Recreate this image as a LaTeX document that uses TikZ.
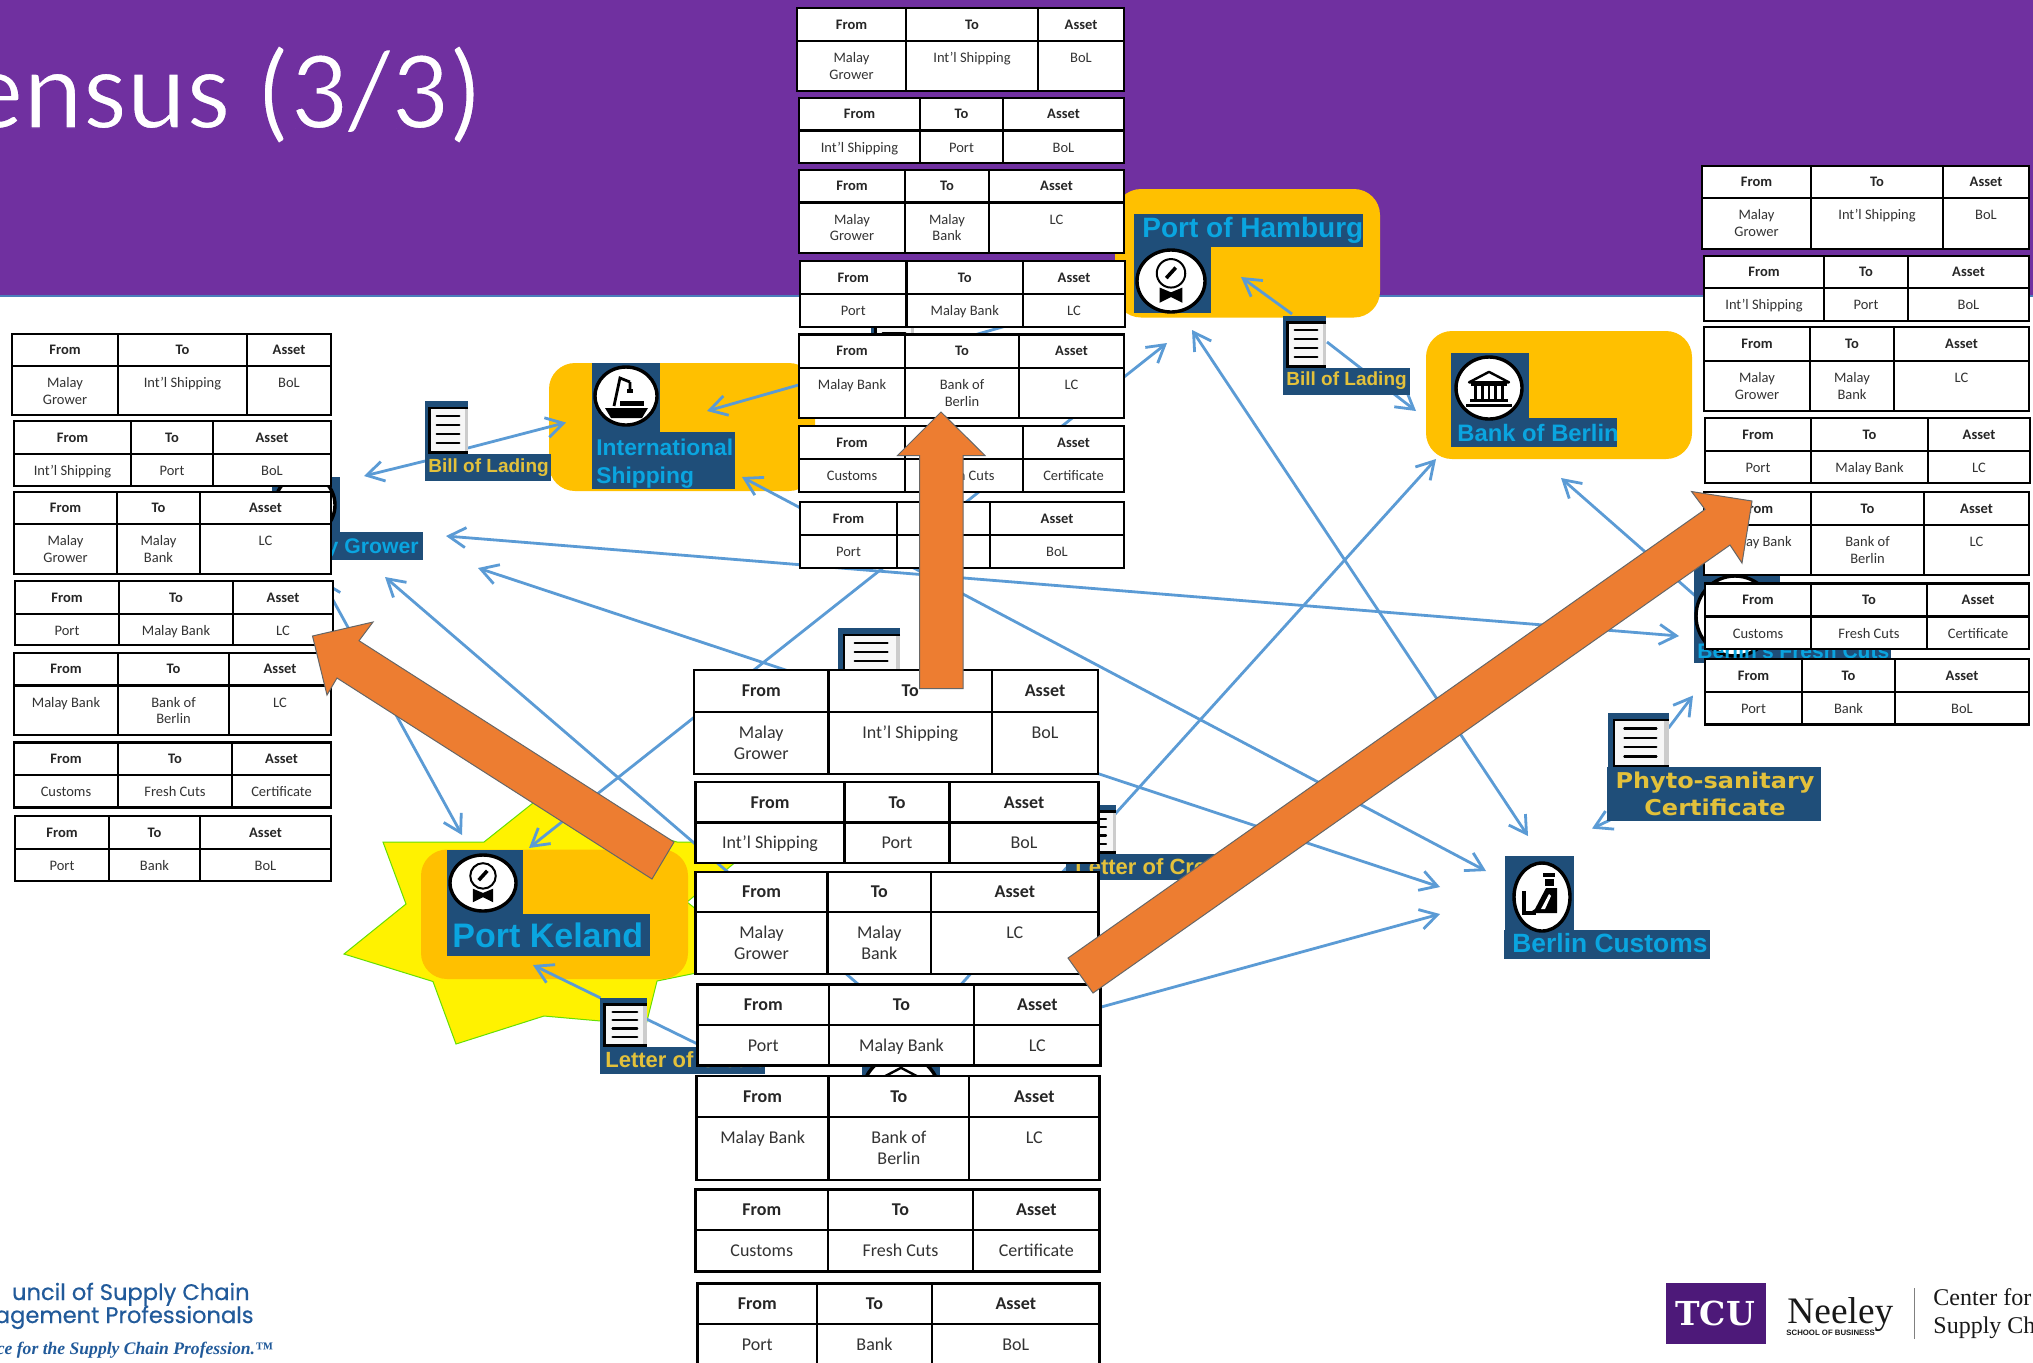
\documentclass[tikz,border=0pt]{standalone}
\usepackage{fontspec}
\setmainfont{Carlito}
\newfontfamily\labfont{Liberation Sans}
\newfontfamily\widefont[FakeStretch=1.1]{DejaVu Sans}
\newfontfamily\geofont[FakeBold=0.4]{Poppins}
\newfontfamily\serfont{Liberation Serif}
\newfontfamily\slabfont{DejaVu Serif}
\usetikzlibrary{arrows.meta,shapes.geometric}
\definecolor{bandpurple}{HTML}{7030A0}
\definecolor{bandline}{HTML}{4A7EBB}
\definecolor{lineblue}{HTML}{5B9BD5}
\definecolor{boxorange}{HTML}{FFC000}
\definecolor{bigorange}{HTML}{ED7D31}
\definecolor{labblue}{HTML}{1F4E79}
\definecolor{labcyan}{HTML}{0AA5E0}
\definecolor{labgold}{HTML}{E3C13B}
\definecolor{logoblue}{HTML}{215A9A}
\definecolor{tcupurple}{HTML}{4D1979}
\tikzset{
  biarrow/.style={draw=lineblue,line width=1.4pt,{Straight Barb[length=8.5pt,width=10pt]}-{Straight Barb[length=8.5pt,width=10pt]}},
  onearrow/.style={draw=lineblue,line width=1.4pt,-{Straight Barb[length=8.5pt,width=10pt]}},
  tblline/.style={draw=black,line width=1.25pt},
  thead/.style={inner sep=0pt,font=\fontsize{\curfs}{\curls}\selectfont\bfseries,text=black!85},
  tbody/.style={inner sep=0pt,anchor=north,align=center,font=\fontsize{\curfs}{\curls}\selectfont,text=black!80},
  orangebox/.style={fill=boxorange,rounded corners=13pt},
  labelrect/.style={fill=labblue},
  cyanlab/.style={inner sep=0pt,anchor=west,text=labcyan,font=\labfont\bfseries},
  goldlab/.style={inner sep=0pt,anchor=west,text=labgold,font=\labfont\bfseries},
  iconcirc/.style={ellipse,fill=white,draw=black,line width=1.7pt,inner sep=0pt},
  bigarrow/.style={fill=bigorange,draw=black!60,line width=.5pt},
  logotext/.style={inner sep=0pt,text=logoblue},
  blacktext/.style={inner sep=0pt,text=black!90},
}
\def\curfs{7.25}\def\curls{8.25}\def\curoff{10.6}
\def\tblgeom#1,#2,#3,#4,#5,#6,#7\relax{\def\xa{#1}\def\xb{#2}\def\xc{#3}\def\xd{#4}\def\ya{#5}\def\yb{#6}\def\yc{#7}}
\newcommand{\tbl}[5]{%
  \tblgeom#2\relax
  \pgfmathsetmacro\mxa{(\xa+\xb)/2}%
  \pgfmathsetmacro\mxb{(\xb+\xc)/2}%
  \pgfmathsetmacro\mxc{(\xc+\xd)/2}%
  \pgfmathsetmacro\myh{(\ya+\yb)/2}%
  \pgfmathsetmacro\myb{\yb+\curoff}%
  \draw[tblline,fill=white] (\xa,\ya) rectangle (\xd,\yc);
  \draw[tblline] (\xb,\ya) -- (\xb,\yc) (\xc,\ya) -- (\xc,\yc) (\xa,\yb) -- (\xd,\yb);
  \node[thead] (#1hf) at (\mxa,\myh) {From};
  \node[thead] (#1ht) at (\mxb,\myh) {To};
  \node[thead] (#1ha) at (\mxc,\myh) {Asset};
  \node[tbody] (#1bf) at (\mxa,\myb) {\rule{0pt}{.75em}#3};
  \node[tbody] (#1bt) at (\mxb,\myb) {\rule{0pt}{.75em}#4};
  \node[tbody] (#1ba) at (\mxc,\myb) {\rule{0pt}{.75em}#5};
}
\newcommand{\docicon}[5]{%
  \pgfmathsetmacro\dw{#4-#2}\pgfmathsetmacro\dh{#5-#3}%
  \fill[labblue] (#2,#3) rectangle (#4,#5);
  \fill[black!3] ({#2+.1*\dw},{#3+.13*\dh}) rectangle (#4,{#5-.03*\dh});
  \fill[black!20] ({#4-.07*\dw},{#3+.13*\dh}) rectangle (#4,{#5-.03*\dh});
  \draw[black,line width=1.2pt] (#4,{#3+.13*\dh}) -- ({#2+.1*\dw},{#3+.13*\dh}) -- ({#2+.1*\dw},{#5-.03*\dh}) -- (#4,{#5-.03*\dh});
  \foreach \q in {.28,.45,.62,.79}{\draw[black,line width=1.1pt,line cap=round] ({#2+.27*\dw},{#3+\q*\dh}) -- ({#2+.8*\dw},{#3+\q*\dh});}
  \coordinate (#1) at ({(#2+#4)/2},{(#3+#5)/2});
}
\newcommand{\badgeglyph}[3]{%
  \begin{scope}[shift={(#1,#2)},scale=#3]
    \draw[black,line width=1pt,fill=white] (0,-6) ellipse [x radius=15,y radius=15];
    \draw[black,line width=1.8pt] (-5,-1) -- (5,-12);
    \fill[black] (-12,9) -- (0,14) -- (12,9) -- (12,25) -- (0,19) -- (-12,25) -- cycle;
  \end{scope}
}
\newcommand{\bankglyph}[3]{%
  \begin{scope}[shift={(#1,#2)},scale=#3]
    \draw[black,line width=1.2pt,fill=white,line join=round] (-21,-6) -- (0,-17) -- (21,-6) -- cycle;
    \foreach \q in {-14,-7,0,7,14}{\fill[black] (\q-1.5,-3) rectangle (\q+1.5,12);}
    \fill[black] (-19,-5) rectangle (19,-2);
    \fill[black] (-20,12) rectangle (20,15);
    \fill[black] (-24,17) rectangle (24,20);
  \end{scope}
}
\begin{document}
\begin{tikzpicture}[x=0.5pt,y=-0.5pt]
\useasboundingbox (0,0) rectangle (2033,1362);
\clip (0,0) rectangle (2033,1362);
\fill[white] (0,0) rectangle (2033,1362);
% band and title
\fill[bandline] (0,294) rectangle (2033,297);
\fill[bandpurple] (0,0) rectangle (2033,295);
\node[inner sep=0pt,anchor=base east,text=white,font=\fontsize{56.5}{60}\selectfont] (title) at (483,128) {\special{pdf:code 2 Tr 0.7 w 0.4392 0.1882 0.6275 RG}ensus (3/3)\special{pdf:code 0 Tr 0 G}};
% orange boxes and star
\path[orangebox] (1115,189) rectangle (1380,317.5);
\path[orangebox] (549,363) rectangle (815,491);
\path[orangebox] (1426,331) rectangle (1692,459);
\draw[fill=yellow,draw=black!20!green!60!yellow,line width=.5pt]
  (383,842) -- (484,842) -- (533,803) -- (600,820) -- (677,842) -- (760,842) -- (687,902) -- (760,960) -- (657,981)
  -- (646,1025) -- (544,1016) -- (456,1044) -- (433,981.5) -- (344,954) -- (406,904) -- cycle;
\path[orangebox] (421,849.5) rectangle (688,979);
% connector end points
\coordinate (growerR) at (446,536); \coordinate (freshL) at (1679,636);
\coordinate (growerS) at (478,568); \coordinate (custA) at (1440,887);
\coordinate (growerT) at (385,577); \coordinate (bankA) at (880,1003);
\coordinate (berlinB) at (1436,459); \coordinate (bankB) at (890,1063);
\coordinate (custB) at (1440,914); \coordinate (bankC) at (930,1054);
\coordinate (kelandT) at (529,848); \coordinate (hambB) at (1167,343);
\coordinate (hambC) at (1192,330); \coordinate (custC) at (1528,836);
\coordinate (shipB) at (742,477); \coordinate (custD) at (1486,871);
\coordinate (growerB) at (322,580); \coordinate (kelandL) at (462,835);
\coordinate (shipR) at (707,411); \coordinate (hambD) at (1020,322);
\coordinate (berlinS) at (1561,478); \coordinate (freshT) at (1700,600);
\coordinate (billLa) at (425,461); \coordinate (growerU) at (364,476);
\coordinate (billLb) at (468,448); \coordinate (shipL) at (566,422.5);
\coordinate (billHa) at (1292,314); \coordinate (hambI) at (1241,277);
\coordinate (billHb) at (1327,342); \coordinate (berlinT) at (1416,411);
\coordinate (phytoA) at (1668.5,728); \coordinate (freshB) at (1693,695.5);
\coordinate (phytoB) at (1610,820); \coordinate (custE) at (1592,828.6);
\coordinate (lcA) at (600.6,998); \coordinate (kelandB) at (533,965);
\coordinate (lcB) at (646.5,1019); \coordinate (bankD) at (720,1055);
% connectors
\draw[biarrow] (growerR) -- (freshL);
\draw[biarrow] (growerS) -- (custA);
\draw[onearrow] (bankA) -- (growerT);
\draw[onearrow] (bankB) -- (berlinB);
\draw[onearrow] (bankC) -- (custB);
\draw[biarrow] (kelandT) -- (hambB);
\draw[biarrow] (hambC) -- (custC);
\draw[biarrow] (shipB) -- (custD);
\draw[biarrow] (growerB) -- (kelandL);
\draw[onearrow] (hambD) -- (shipR);
\draw[onearrow] (freshT) -- (berlinS);
\draw[onearrow] (billLa) -- (growerU);
\draw[onearrow] (billLb) -- (shipL);
\draw[onearrow] (billHa) -- (hambI);
\draw[onearrow] (billHb) -- (berlinT);
\draw[onearrow] (phytoA) -- (freshB);
\draw[onearrow] (phytoB) -- (custE);
\draw[onearrow] (lcA) -- (kelandB);
\draw[line width=1.4pt,draw=lineblue] (lcB) -- (bankD);
% Port of Hamburg
\fill[labblue] (1134,214) rectangle (1363,247);
\node[cyanlab,font=\labfont\bfseries\fontsize{14}{16}\selectfont] (hamb) at (1142,230) {Port of Hamburg};
\fill[labblue] (1134,247) rectangle (1211,313);
\node[iconcirc,minimum width=34pt,minimum height=31pt] (hambIcon) at (1171,281) {};
\badgeglyph{1171}{279}{.95}
% International Shipping
\fill[labblue] (592,363) rectangle (660,432);
\fill[labblue] (592,432) rectangle (735,489);
\node[iconcirc,minimum width=31pt,minimum height=29pt] (shipIcon) at (626,396) {};
\begin{scope}[shift={(626,396)}]
  \fill[black] (-21,12) -- (22,12) -- (16,22) -- (-15,22) -- cycle;
  \fill[black] (-6,5) rectangle (18,10);
  \draw[black,line width=1.4pt] (-12,10) -- (-6,-18) -- (4,-14) (4,-14) -- (4,-7);
  \fill[black] (1,-7) rectangle (7,-3);
\end{scope}
\node[cyanlab,align=left,font=\labfont\bfseries\fontsize{11.4}{14}\selectfont] (ship) at (596,463.5) {International\\Shipping};
% Bank of Berlin
\fill[labblue] (1451,353) rectangle (1529,418);
\fill[labblue] (1451,418) rectangle (1617,447);
\node[iconcirc,minimum width=33pt,minimum height=31pt] (berlinIcon) at (1489,388) {};
\bankglyph{1489}{388}{.95}
\node[cyanlab,font=\labfont\bfseries\fontsize{11.9}{14}\selectfont] (berlin) at (1457,432.5) {Bank of Berlin};
% Malay Grower
\fill[labblue] (272,477) rectangle (340,532);
\fill[labblue] (272,532) rectangle (423,560);
\node[iconcirc,minimum width=30pt,minimum height=31pt] (growerIcon) at (305,505) {};
\node[inner sep=0pt,anchor=east,text=labcyan,font=\labfont\bfseries\fontsize{10.6}{12}\selectfont] (grower) at (419,548) {Malay Grower};
% Port Keland
\fill[labblue] (447,850) rectangle (523,913.5);
\fill[labblue] (447,913.5) rectangle (650,956);
\node[iconcirc,minimum width=33pt,minimum height=28pt] (kelandIcon) at (483,883) {};
\badgeglyph{483}{881}{.85}
\node[cyanlab,font=\labfont\bfseries\fontsize{17}{19}\selectfont] (keland) at (452,935) {Port Keland};
% Bills of lading and letters of credit
\docicon{billL}{425}{401}{468}{454}
\fill[labblue] (425,454) rectangle (551,481);
\node[goldlab,font=\labfont\bfseries\fontsize{9.5}{11}\selectfont] (billLt) at (428,468) {Bill of Lading};
\docicon{billH}{1283}{315.5}{1326}{368}
\fill[labblue] (1283,368) rectangle (1410,395);
\node[goldlab,font=\labfont\bfseries\fontsize{9.5}{11}\selectfont] (billHt) at (1286,381) {Bill of Lading};
\docicon{billT}{871}{309}{914}{362}
\docicon{billC}{838}{628}{900}{681}
\docicon{lcLow}{600}{998}{646.5}{1047}
\fill[labblue] (600,1047) rectangle (765,1073.6);
\node[goldlab,font=\labfont\bfseries\fontsize{11}{13}\selectfont] (lcLowT) at (605,1060) {Letter of Credit};
\docicon{lcMid}{1066}{805}{1116}{854}
\fill[labblue] (1066,854) rectangle (1250,880);
\node[goldlab,font=\labfont\bfseries\fontsize{11}{13}\selectfont] (lcMidT) at (1075,867) {Letter of Credit};
% Malay Bank (under the centre tables)
\fill[labblue] (862,1060) rectangle (940,1140);
\node[iconcirc,minimum width=39pt,minimum height=40pt] (bankIcon) at (901,1095) {};
\bankglyph{901}{1095}{1.6}
% Berlin's Fresh Cuts
\fill[labblue] (1694,565) rectangle (1780,630);
\fill[labblue] (1694,630) rectangle (1890.5,663);
\node[iconcirc,minimum width=39pt,minimum height=40pt] (freshIcon) at (1735,616) {};
\node[cyanlab,font=\labfont\bfseries\fontsize{10.5}{12}\selectfont] (fresh) at (1697,651) {Berlin’s Fresh Cuts};
% Phyto
\docicon{phytoIcon}{1608}{713}{1668.5}{768}
\fill[labblue] (1607,767) rectangle (1821,821);
\node[inner sep=0pt,align=center,text=labgold,font=\widefont\bfseries\fontsize{10.9}{13.4}\selectfont] (phyto) at (1715,794) {Phyto-sanitary\\Certificate};
% Berlin Customs
\fill[labblue] (1505,856) rectangle (1574,930);
\fill[labblue] (1504,930) rectangle (1710,959);
\node[iconcirc,minimum width=28pt,minimum height=34pt] (custIcon) at (1542,897) {};
\begin{scope}[shift={(1542,897)}]
  \fill[black] (1,-24) rectangle (13,-20);
  \fill[black] (3,-18) rectangle (12,-11);
  \fill[black] (-7,12) -- (4,-9) -- (15,-9) -- (15,16) -- (-13,16) -- cycle;
  \fill[white] (-1,12) -- (7,-3) -- (9,-1) -- (3,12) -- cycle;
  \fill[black] (-20,-6) rectangle (-16,16);
  \fill[black] (-20,14) rectangle (-6,18);
\end{scope}
\node[cyanlab,font=\labfont\bfseries\fontsize{13.2}{15}\selectfont] (cust) at (1512,943) {Berlin Customs};
% left tables
\tbl{la}{12,118,247,331,334,366,415}{Malay\\Grower}{Int’l Shipping}{BoL}
\tbl{lb}{14,131,213,331,421,454,486}{Int’l Shipping}{Port}{BoL}
\tbl{lc}{14,117,200,331,492,524,574}{Malay\\Grower}{Malay\\Bank}{LC}
\tbl{ld}{15,119,233,333,581,614,645}{Port}{Malay Bank}{LC}
\tbl{le}{14,118,229,331,653,685.5,735}{Malay Bank}{Bank of\\Berlin}{LC}
\tbl{lf}{14,118,232,331,742.5,775,807.5}{Customs}{Fresh Cuts}{Certificate}
\tbl{lg}{15,109,200,331,816,849,881}{Port}{Bank}{BoL}
% top tables
\tbl{ta}{797,906,1038,1124,8,41,91}{Malay\\Grower}{Int’l Shipping}{BoL}
\tbl{tb}{799,920,1003,1124,98,130.5,163}{Int’l Shipping}{Port}{BoL}
\tbl{tc}{799,905,989,1124,170,202.5,253}{Malay\\Grower}{Malay\\Bank}{LC}
\tbl{td}{800,906.5,1023,1125,261,294,327}{Port}{Malay Bank}{LC}
\tbl{te}{799,905,1019,1124,334.5,368,418}{Malay Bank}{Bank of\\Berlin}{LC}
\tbl{tf}{799,905,1023,1124,426,459,492}{Customs}{Fresh Cuts}{Certificate}
\tbl{tg}{800,897,990,1124,502,535,568}{Port}{Bank}{BoL}
% right tables
\tbl{ra}{1702,1811,1943,2029,166,198,249}{Malay\\Grower}{Int’l Shipping}{BoL}
\tbl{rb}{1704,1824,1908,2029,256,288,321}{Int’l Shipping}{Port}{BoL}
\tbl{rc}{1704,1810,1894,2029,327,361,411}{Malay\\Grower}{Malay\\Bank}{LC}
\tbl{rd}{1705,1811,1928,2030,418,451,483}{Port}{Malay Bank}{LC}
\tbl{re}{1704,1811,1924,2029,492,525,575}{Malay Bank}{Bank of\\Berlin}{LC}
\tbl{rf}{1705,1811,1927,2029,583.5,616.5,649}{Customs}{Fresh Cuts}{Certificate}
\tbl{rg}{1705,1802,1895,2029,659,692,724.5}{Port}{Bank}{BoL}
% centre tables
\def\curfs{9}\def\curls{10.75}\def\curoff{12.2}
\tbl{ca}{694,828.5,992,1098,670,712,774}{Malay\\Grower}{Int’l Shipping}{BoL}
\tbl{cb}{695.5,844.5,949.6,1098.6,782,822.5,863}{Int’l Shipping}{Port}{BoL}
\tbl{cc}{695.5,827.6,931,1098.6,872,912,974}{Malay\\Grower}{Malay\\Bank}{LC}
\tbl{cd}{697.5,829,974,1100.6,984.6,1025,1065.6}{Port}{Malay Bank}{LC}
\tbl{ce}{696.5,828.7,969,1099.6,1076,1117,1180}{Malay Bank}{Bank of\\Berlin}{LC}
\tbl{cf}{695.5,828,973,1099.6,1189.6,1230,1271.7}{Customs}{Fresh Cuts}{Certificate}
\tbl{cg}{697.5,817,932,1099.6,1283.6,1324,1375}{Port}{Bank}{BoL}
% big orange arrows
\path[bigarrow] (312.5,636) -- (373,622) -- (359,640.7) -- (674,842) -- (652,879) -- (337,678) -- (327,695) -- cycle;
\path[bigarrow] (941,412) -- (985,455.5) -- (963,455.5) -- (963,688.5) -- (919.6,688.5) -- (919.6,455.5) -- (897.5,455.5) -- cycle;
\path[bigarrow] (1752,501) -- (1742,563) -- (1730,545) -- (1093,993) -- (1068,958) -- (1705,509.4) -- (1691.5,491.5) -- cycle;
% logos
\node[logotext,anchor=base east,font=\geofont\fontsize{11.3}{12}\selectfont] (cscmpA) at (250,1300) {uncil of Supply Chain};
\node[logotext,anchor=base east,font=\geofont\fontsize{11.3}{12}\selectfont] (cscmpB) at (254,1323) {nagement Professionals};
\node[logotext,anchor=base east,font=\serfont\bfseries\itshape\fontsize{8.8}{10}\selectfont] (cscmpC) at (273,1354) {ce for the Supply Chain Profession.™};
\fill[tcupurple] (1666,1283) rectangle (1766,1344);
\node[inner sep=0pt,text=white,font=\slabfont\bfseries\fontsize{16.5}{18}\selectfont] (tcu) at (1715,1313) {TCU};
\node[blacktext,anchor=base west,font=\serfont\fontsize{18.7}{20}\selectfont] (neeley) at (1787,1323) {Neeley};
\node[blacktext,anchor=base west,font=\labfont\bfseries\fontsize{3.9}{5}\selectfont] (school) at (1786,1335) {SCHOOL OF BUSINESS};
\draw[black!50,line width=.5pt] (1914,1288) -- (1914,1339);
\node[blacktext,anchor=base west,font=\serfont\fontsize{12}{14}\selectfont] (ctrA) at (1933,1305) {Center for};
\node[blacktext,anchor=base west,font=\serfont\fontsize{12}{14}\selectfont] (ctrB) at (1933,1333) {Supply Cha};
\end{tikzpicture}
\end{document}
